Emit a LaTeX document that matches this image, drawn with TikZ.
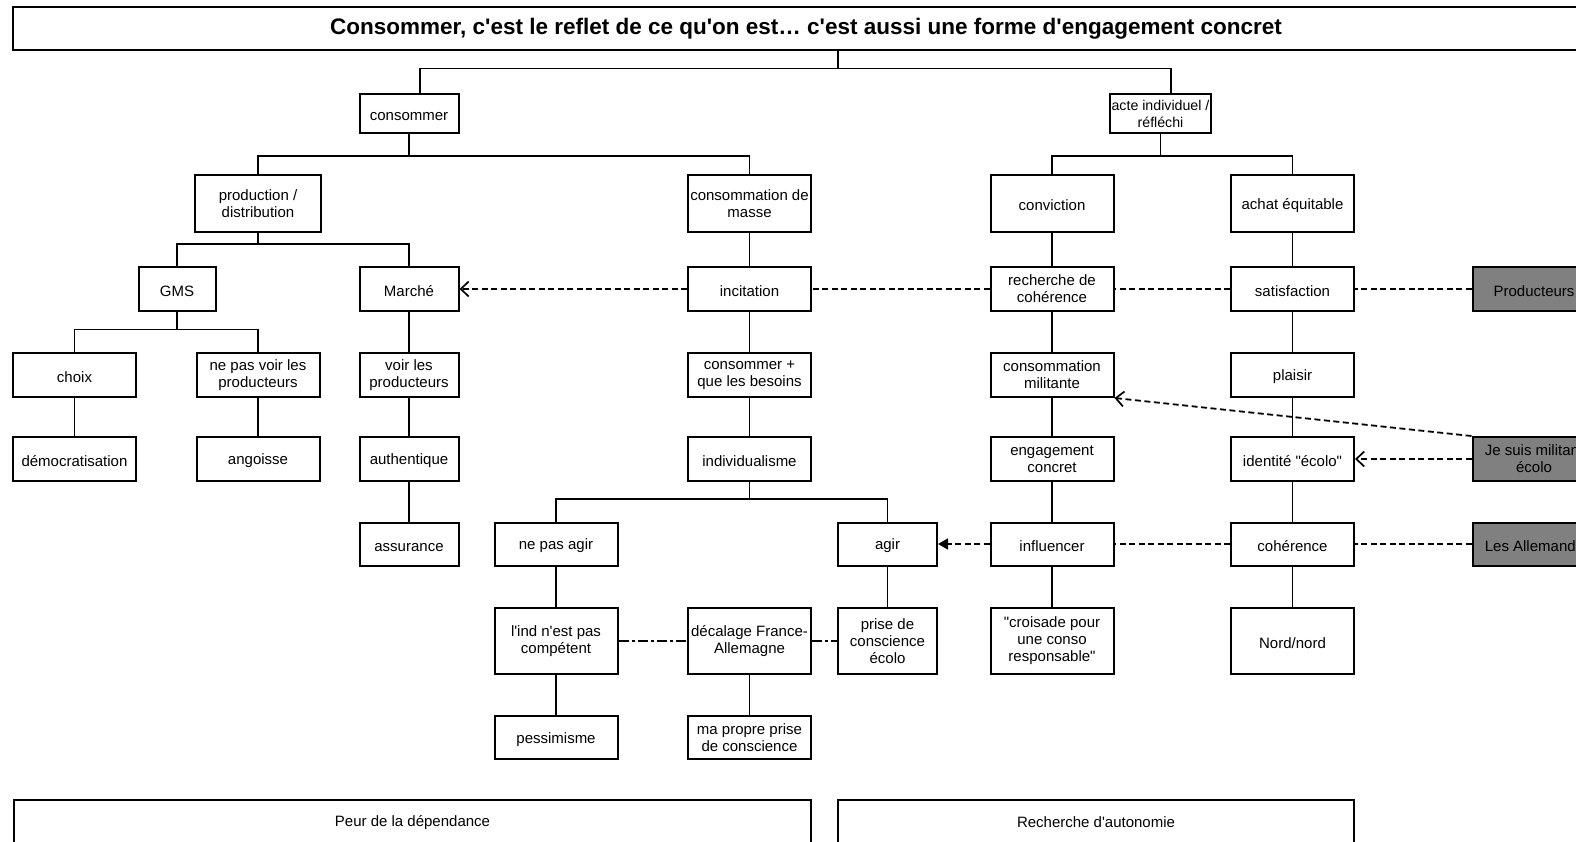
\documentclass[tikz,border=0pt]{standalone}
\usepackage{fontspec}
\setmainfont{Liberation Sans}[Ligatures=TeXOff]
\usetikzlibrary{arrows.meta}
\begin{document}
\begin{tikzpicture}[x=1pt,y=-1pt,
  box/.style={draw, line width=2pt, fill=white, minimum width=123pt,
    minimum height=44pt, align=center, inner sep=1pt,
    font=\fontsize{15}{17}\selectfont,
    execute at begin node={\rule{0pt}{14.5pt}}},
  narrow/.style={minimum width=99pt},
  tall/.style={minimum height=66pt},
  greybox/.style={fill=black!50},
  link/.style={line width=1.1pt},
  dashlink/.style={line width=1.8pt, dash pattern=on 6pt off 3.5pt},
  dotlink/.style={line width=1.8pt, dash pattern=on 10pt off 3pt on 3pt off 3pt},
  openarrow/.style={-{Straight Barb[length=8pt,width=15pt,line width=1.7pt]}},
  fullarrow/.style={-{Triangle[length=10pt,width=11pt]}},
  textonly/.style={font=\fontsize{15}{17}\selectfont}
]
\useasboundingbox (0,0) rectangle (1576,842);

% heading
\node[box, minimum width=1586pt, minimum height=43pt, line width=2.5pt,
  font=\bfseries\fontsize{22.5}{26}\selectfont,
  execute at begin node={}] (title) at (806,28.5)
  {Consommer, c'est le reflet de ce qu'on est… c'est aussi une forme d'engagement concret};

% first level
\node[box, narrow, minimum height=39pt] (consommer) at (409,113.5) {consommer};
\node[box, minimum width=101pt, minimum height=39pt,
  font=\fontsize{14.2}{17}\selectfont] (acte) at (1160.5,113.5) {acte individuel /\\réfléchi};

% second level
\node[box, minimum width=126pt, minimum height=57pt] (prod) at (258,203.5) {production /\\distribution};
\node[box, minimum height=57pt] (masse) at (749.5,203.5) {consommation de\\masse};
\node[box, minimum height=57pt] (conviction) at (1052,203.5) {conviction};
\node[box, minimum height=57pt] (achat) at (1292.5,203.5) {achat équitable};

% third level
\node[box, minimum width=77pt, minimum height=43pt] (gms) at (177,289) {GMS};
\node[box, narrow, minimum height=43pt] (marche) at (409,289) {Marché};
\node[box, minimum height=43pt] (incitation) at (749.5,289) {incitation};
\node[box, minimum height=43pt] (recherche) at (1052,289) {recherche de\\cohérence};
\node[box, minimum height=43pt] (satisfaction) at (1292.5,289) {satisfaction};
\node[box, greybox, minimum height=43pt] (producteurs) at (1534,289) {Producteurs};

% fourth level
\node[box] (choix) at (74.5,375) {choix};
\node[box] (nepasvoir) at (258,375) {ne pas voir les\\producteurs};
\node[box, narrow] (voir) at (409,375) {voir les\\producteurs};
\node[box] (consplus) at (749.5,375) {consommer +\\que les besoins};
\node[box] (militante) at (1052,375) {consommation\\militante};
\node[box] (plaisir) at (1292.5,375) {plaisir};

% fifth level
\node[box] (democ) at (74.5,459) {démocratisation};
\node[box] (angoisse) at (258,459) {angoisse};
\node[box, narrow] (authentique) at (409,459) {authentique};
\node[box] (indiv) at (749.5,459) {individualisme};
\node[box] (engagement) at (1052,459) {engagement\\concret};
\node[box] (identite) at (1292.5,459) {identité "écolo"};
\node[box, greybox] (jesuis) at (1534,459) {Je suis militant\\écolo};

% sixth level
\node[box, narrow, minimum height=43pt] (assurance) at (409,544) {assurance};
\node[box, minimum height=43pt] (nepasagir) at (556,544) {ne pas agir};
\node[box, narrow, minimum height=43pt] (agir) at (887.5,544) {agir};
\node[box, minimum height=43pt] (influencer) at (1052,544) {influencer};
\node[box, minimum height=43pt] (coherence) at (1292.5,544) {cohérence};
\node[box, greybox, minimum height=43pt] (allemands) at (1534,544) {Les Allemands};

% seventh level
\node[box, tall] (incompetent) at (556,641) {l'ind n'est pas\\compétent};
\node[box, tall] (decalage) at (749.5,641) {décalage France-\\Allemagne};
\node[box, narrow, tall] (prise) at (887.5,641) {prise de\\conscience\\écolo};
\node[box, tall] (croisade) at (1052,641) {"croisade pour\\une conso\\responsable"};
\node[box, tall] (nord) at (1292.5,641) {Nord/nord};

% eighth level
\node[box, minimum height=43pt] (pessimisme) at (556,737.5) {pessimisme};
\node[box, minimum height=43pt] (mapropre) at (749.5,737.5) {ma propre prise\\de conscience};

% bottom bands
\node[box, minimum width=797pt, minimum height=70pt] (peurbox) at (412.5,835) {};
\node[textonly] (peur) at (412.5,822.5) {Peur de la dépendance};
\node[box, minimum width=516pt, minimum height=70pt] (autobox) at (1096,835) {};
\node[textonly] (auto) at (1096,822.5) {Recherche d'autonomie};

% tree connectors
\coordinate (rootbus) at (838,68.5);
\draw[link] (title.south -| rootbus) -- (rootbus);
\draw[link] ([xshift=11pt]consommer.north) |- (rootbus) -| ([xshift=10.5pt]acte.north);

\draw[link] (consommer.south) -- ++(0,22) -| (prod.north);
\draw[link] (consommer.south) ++(0,22) -| (masse.north);
\draw[link] (acte.south) -- ++(0,22) -| (conviction.north);
\draw[link] (acte.south) ++(0,22) -| (achat.north);

\draw[link] (prod.south) -- ++(0,11) -| (gms.north);
\draw[link] (prod.south) ++(0,11) -| (marche.north);
\draw[link] (gms.south) -- ++(0,18) -| (choix.north);
\draw[link] (gms.south) ++(0,18) -| (nepasvoir.north);
\draw[link] (indiv.south) -- ++(0,17) -| (nepasagir.north);
\draw[link] (indiv.south) ++(0,17) -| (agir.north);

\draw[link] (choix) -- (democ);
\draw[link] (nepasvoir) -- (angoisse);
\draw[link] (marche) -- (voir);
\draw[link] (voir) -- (authentique);
\draw[link] (authentique) -- (assurance);
\draw[link] (masse) -- (incitation);
\draw[link] (incitation) -- (consplus);
\draw[link] (consplus) -- (indiv);
\draw[link] (nepasagir) -- (incompetent);
\draw[link] (incompetent) -- (pessimisme);
\draw[link] (decalage) -- (mapropre);
\draw[link] (agir) -- (prise);
\draw[link] (conviction) -- (recherche);
\draw[link] (recherche) -- (militante);
\draw[link] (militante) -- (engagement);
\draw[link] (engagement) -- (influencer);
\draw[link] (influencer) -- (croisade);
\draw[link] (achat) -- (satisfaction);
\draw[link] (satisfaction) -- (plaisir);
\draw[link] (plaisir) -- (identite);
\draw[link] (identite) -- (coherence);
\draw[link] (coherence) -- (nord);

% cross links
\draw[dashlink, openarrow] (incitation) -- (marche);
\draw[dashlink] (recherche) -- (incitation);
\draw[dashlink] (satisfaction) -- (recherche);
\draw[dashlink] (producteurs) -- (satisfaction);
\draw[dashlink, openarrow] (jesuis.north west) -- (militante.south east);
\draw[dashlink, openarrow] (jesuis) -- (identite);
\draw[dashlink, fullarrow] (influencer) -- (agir);
\draw[dashlink] (coherence) -- (influencer);
\draw[dashlink] (allemands) -- (coherence);
\draw[dotlink] (incompetent) -- (decalage);
\draw[dotlink] (decalage) -- (prise);
\end{tikzpicture}
\end{document}
